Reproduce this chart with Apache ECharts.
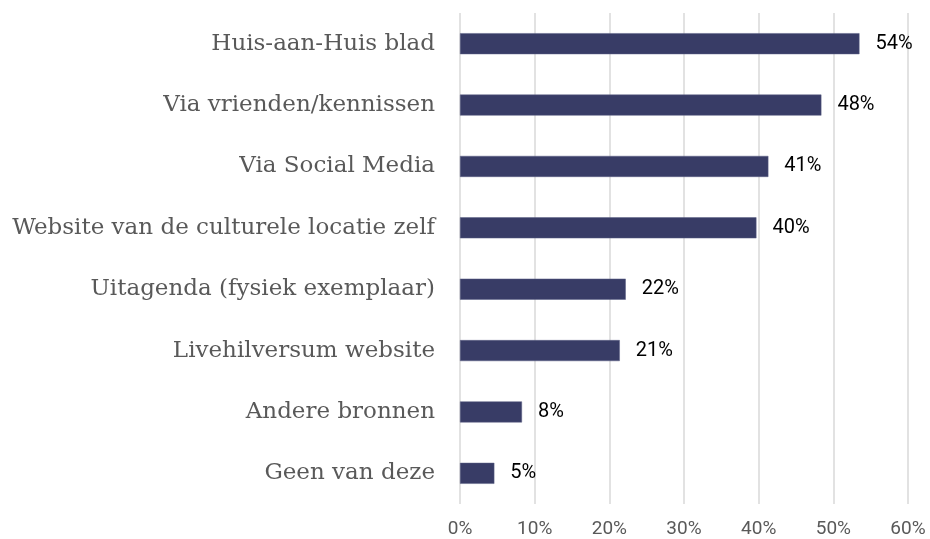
<!DOCTYPE html>
<html>
<head>
<meta charset="utf-8">
<script src="https://cdn.jsdelivr.net/npm/echarts@6/dist/echarts.min.js"></script>
<style>
  html, body { margin: 0; padding: 0; background: #fff; }
  #chart { width: 930px; height: 539px; }
</style>
</head>
<body>
<div id="chart"></div>
<script>
// bronnen, van onder naar boven (yAxis category loopt van onder naar boven)
var categories = [
  'Geen van deze',
  'Andere bronnen',
  'Livehilversum website',
  'Uitagenda (fysiek exemplaar)',
  'Website van de culturele locatie zelf',
  'Via Social Media',
  'Via vrienden/kennissen',
  'Huis-aan-Huis blad'
];
var values = [4.6, 8.3, 21.4, 22.2, 39.7, 41.3, 48.4, 53.5];
var labels = ['5%', '8%', '21%', '22%', '40%', '41%', '48%', '54%'];
var xTicks = [0, 10, 20, 30, 40, 50, 60];

var chart = echarts.init(document.getElementById('chart'));

chart.setOption({
  animation: false,
  grid: { left: 460, right: 22, top: 13, bottom: 35, containLabel: false },
  xAxis: {
    type: 'value',
    min: xTicks[0],
    max: xTicks[xTicks.length - 1],
    interval: 10,
    axisLine: { show: false },
    axisTick: { show: false },
    axisLabel: {
      formatter: '{value}%',
      color: '#595959',
      fontFamily: 'Roboto',
      fontSize: 19,
      margin: 16
    },
    splitLine: { lineStyle: { color: '#d9d9d9', width: 1.5 } }
  },
  yAxis: {
    type: 'category',
    data: categories,
    axisLine: { show: false },
    axisTick: { show: false },
    axisLabel: {
      color: '#595959',
      fontFamily: 'DejaVu Serif',
      fontSize: 23,
      margin: 25
    }
  },
  series: [{
    type: 'bar',
    data: values,
    barWidth: 21,
    itemStyle: { color: '#383c66', borderColor: '#5a5e85', borderWidth: 0.5 },
    label: {
      show: true,
      position: 'right',
      distance: 16,
      color: '#000',
      fontFamily: 'Roboto',
      fontSize: 20,
      formatter: function (p) { return labels[p.dataIndex]; }
    }
  }]
});
</script>
</body>
</html>
